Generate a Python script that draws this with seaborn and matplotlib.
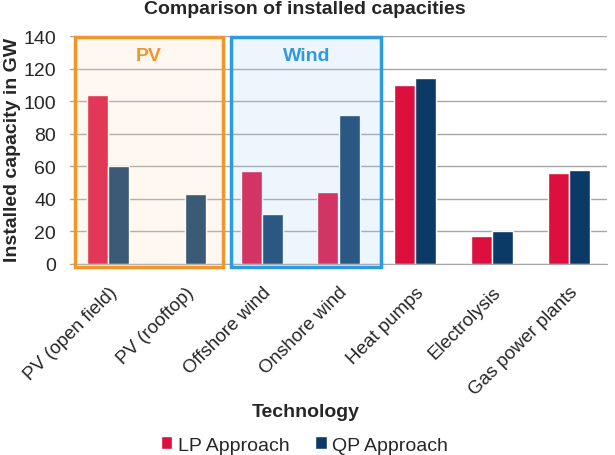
import numpy as np
import pandas as pd
import matplotlib
matplotlib.use('Agg')
import matplotlib.pyplot as plt
import seaborn as sns
from matplotlib.patches import Rectangle, Patch

technologies = ['PV (open field)', 'PV (rooftop)', 'Offshore wind', 'Onshore wind',
                'Heat pumps', 'Electrolysis', 'Gas power plants']
lp_values = [103.5, 0, 57, 44, 110, 17, 56]
qp_values = [60, 43, 31, 91.5, 114.5, 20, 57.5]
series_names = ['LP Approach', 'QP Approach']
y_ticks = [0, 20, 40, 60, 80, 100, 120, 140]

df = pd.DataFrame({
    'technology': technologies * 2,
    'capacity': lp_values + qp_values,
    'approach': [series_names[0]] * len(technologies) + [series_names[1]] * len(technologies),
})

sns.set_style('white')
plt.rcParams['font.family'] = ['Liberation Sans', 'DejaVu Sans']

colors = {'LP Approach': '#DC0F3F', 'QP Approach': '#0B3A66'}

fig = plt.figure(figsize=(6.15, 4.56), dpi=100)
ax = fig.add_axes([70 / 615, 1 - 265 / 456, (607 - 70) / 615, (265 - 37) / 456])

sns.barplot(data=df, x='technology', y='capacity', hue='approach', order=technologies,
            hue_order=series_names, palette=colors, width=0.55, saturation=1,
            ax=ax, legend=False, zorder=2)

ax.set_ylim(0, 140)
ax.set_xlim(-0.5, len(technologies) - 0.5)
ax.set_yticks(y_ticks)
ax.tick_params(axis='y', labelsize=14, length=0, pad=10)
ax.yaxis.grid(True, color='#A6A6A6', linewidth=1, zorder=0)
ax.set_axisbelow(True)
for s in ['left', 'right', 'top']:
    ax.spines[s].set_visible(False)
ax.spines['bottom'].set_color('#A6A6A6')

ax.set_xticks(range(len(technologies)))
ax.set_xticklabels(technologies, rotation=45, ha='right', rotation_mode='anchor', fontsize=13.5)
ax.tick_params(axis='x', length=0, pad=14)
ax.set_xticks(np.arange(-0.5, len(technologies)), minor=True)
ax.tick_params(axis='x', which='minor', length=5, color='#A6A6A6', direction='out')

ax.set_xlabel('')
ax.set_ylabel('')

# group boxes
ax.add_patch(Rectangle((-0.43, -2), 1.93, 141.5, facecolor='#FFDCB4', alpha=0.2,
                       edgecolor='none', zorder=3, clip_on=False))
ax.add_patch(Rectangle((-0.43, -2), 1.93, 141.5, facecolor='none', edgecolor='#F0962A',
                       linewidth=2.5, zorder=4, clip_on=False))
ax.add_patch(Rectangle((1.6, -2), 1.96, 141.5, facecolor='#AAD2F5', alpha=0.2,
                       edgecolor='none', zorder=3, clip_on=False))
ax.add_patch(Rectangle((1.6, -2), 1.96, 141.5, facecolor='none', edgecolor='#2E9BE0',
                       linewidth=2.5, zorder=4, clip_on=False))
ax.text(0.52, 128, 'PV', color='#F0962A', fontsize=14, fontweight='bold',
        ha='center', va='center', zorder=5)
ax.text(2.58, 128, 'Wind', color='#2E9BE0', fontsize=14, fontweight='bold',
        ha='center', va='center', zorder=5)

fig.text(0.495, 1 - 9 / 456, 'Comparison of installed capacities', fontsize=14,
         fontweight='bold', ha='center', va='center')
fig.text(0.497, 1 - 413 / 456, 'Technology', fontsize=14, fontweight='bold',
         ha='center', va='center')
fig.text(13 / 615, 1 - 150 / 456, 'Installed capacity in GW', fontsize=14,
         fontweight='bold', ha='center', va='center', rotation=90)

handles = [Patch(facecolor=colors[n], label=n) for n in series_names]
fig.legend(handles=handles, loc='center', bbox_to_anchor=(0.495, 1 - 446 / 456),
           ncol=2, frameon=False, fontsize=14, handlelength=0.6, handleheight=0.6,
           columnspacing=1.3, handletextpad=0.3)

fig.savefig('out.png', dpi=100)
